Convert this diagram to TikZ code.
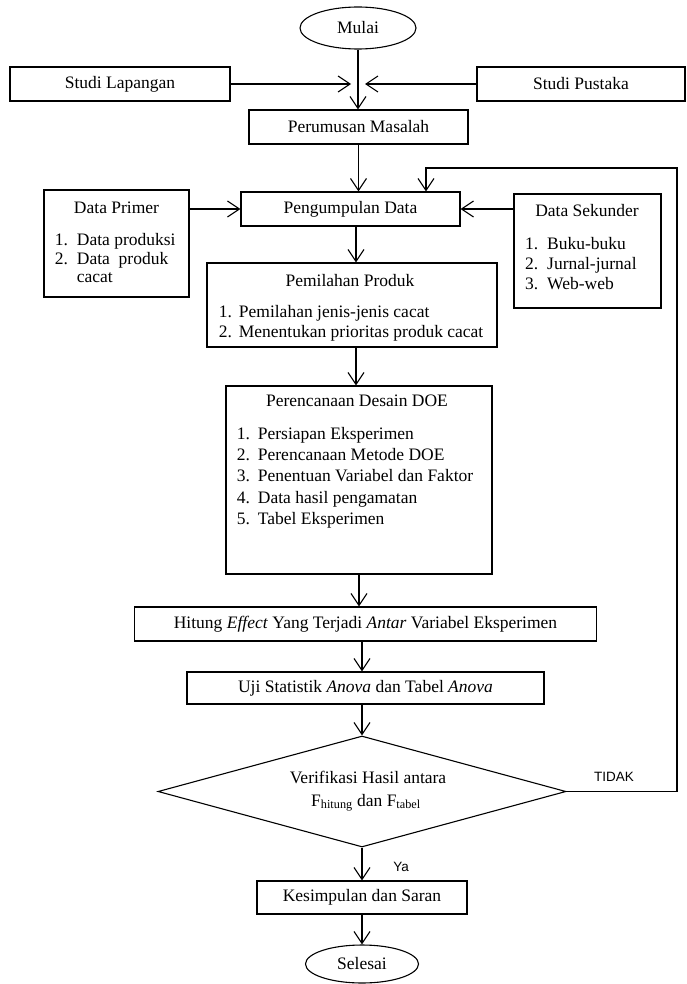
\documentclass[tikz,border=0pt]{standalone}
\usepackage{fontspec}
\setmainfont{Liberation Serif}
\newfontfamily\sansf{Liberation Sans}
\usetikzlibrary{arrows.meta,shapes.geometric,calc}
\tikzset{
  box/.style={draw, line width=1.1pt, rectangle, inner sep=0pt, font=\fontsize{17.5}{21}\selectfont},
  term/.style={draw, line width=1.1pt, ellipse, inner sep=0pt, font=\fontsize{17.5}{21}\selectfont},
  dec/.style={draw, line width=1.1pt, diamond, inner sep=0pt},
  arr/.style={line width=1.1pt, -{Straight Barb[length=12pt,width=16pt,line width=1.1pt]}},
  txt/.style={inner sep=0pt, font=\fontsize{17.5}{21}\selectfont, text height=12pt, text depth=4pt},
  lab/.style={inner sep=0pt, font=\sansf\fontsize{13.5}{15}\selectfont},
}
\newcommand{\itm}[2][21pt]{\makebox[#1][l]{#2}}
\begin{document}
\begin{tikzpicture}[x=1pt,y=-1pt]
\fill[white] (0,0) rectangle (686,984);
\useasboundingbox (0,0) rectangle (686,984);

% nodes
\node[term, minimum width=116pt, minimum height=42pt] (mulai) at (358,28) {Mulai};
\node[box, minimum width=220pt, minimum height=34pt] (lap) at (120,84) {Studi Lapangan};
\node[box, minimum width=208pt, minimum height=34pt] (pus) at (581,84) {Studi Pustaka};
\node[box, minimum width=219pt, minimum height=34pt] (pers) at (358.5,127) {Perumusan Masalah};
\node[box, minimum width=219pt, minimum height=34pt] (peng) at (350.5,209) {Pengumpulan Data};
\node[box, minimum width=145pt, minimum height=107pt] (prim) at (116.5,243.5) {};
\node[box, minimum width=147pt, minimum height=114pt] (sek) at (587.5,251) {};
\node[box, minimum width=290pt, minimum height=84pt] (pem) at (352,305) {};
\node[box, minimum width=266pt, minimum height=188pt] (doe) at (359,480) {};
\node[box, minimum width=462pt, minimum height=34pt] (hit) at (365.5,624) {Hitung \textit{Effect} Yang Terjadi \textit{Antar} Variabel Eksperimen};
\node[box, minimum width=357pt, minimum height=32pt] (uji) at (365.5,688) {Uji Statistik \textit{Anova} dan Tabel \textit{Anova}};
\node[dec, minimum width=408pt, minimum height=111pt] (ver) at (362,791.5) {};
\node[box, minimum width=210pt, minimum height=33pt] (kes) at (362,897.5) {Kesimpulan dan Saran};
\node[term, minimum width=113pt, minimum height=38pt] (sel) at (362,964) {Selesai};

% texts in multi-line boxes
\node[txt] (primT) at (116.5,210) {Data Primer};
\node[txt, anchor=west] (prim1) at (54.7,241) {\itm[22pt]{1.}Data produksi};
\node[txt, anchor=west] (prim2) at (54.7,260) {\itm[22pt]{2.}Data\ \ produk};
\node[txt, anchor=west] (prim3) at (76.7,278) {cacat};

\node[txt] (sekT) at (587,213) {Data Sekunder};
\node[txt, anchor=west] (sek1) at (525,245) {\itm[22pt]{1.}Buku-buku};
\node[txt, anchor=west] (sek2) at (525,265) {\itm[22pt]{2.}Jurnal-jurnal};
\node[txt, anchor=west] (sek3) at (525,285) {\itm[22pt]{3.}Web-web};

\node[txt] (pemT) at (350,282) {Pemilahan Produk};
\node[txt, anchor=west] (pem1) at (218.7,313) {\itm[20pt]{1.}Pemilahan jenis-jenis cacat};
\node[txt, anchor=west] (pem2) at (218.7,333) {\itm[20pt]{2.}Menentukan prioritas produk cacat};

\node[txt] (doeT) at (357,402) {Perencanaan Desain DOE};
\node[txt, anchor=west] (doe1) at (236.7,435) {\itm{1.}Persiapan Eksperimen};
\node[txt, anchor=west] (doe2) at (236.7,456) {\itm{2.}Perencanaan Metode DOE};
\node[txt, anchor=west] (doe3) at (236.7,477.5) {\itm{3.}Penentuan Variabel dan Faktor};
\node[txt, anchor=west] (doe4) at (236.7,499) {\itm{4.}Data hasil pengamatan};
\node[txt, anchor=west] (doe5) at (236.7,520.5) {\itm{5.}Tabel Eksperimen};

\node[txt] (ver1) at (368,779) {Verifikasi Hasil antara};
\node[txt] (ver2) at (366,802) {F\textsubscript{hitung} dan F\textsubscript{tabel}};

\node[lab] (tidak) at (614,777) {TIDAK};
\node[lab] (ya) at (401,867) {Ya};

% helper coordinates
\coordinate (sA) at (356,0);
\coordinate (jL) at (351,84);
\coordinate (jR) at (365,84);
\coordinate (fbR) at (677,168);
\coordinate (fbL) at (426,168);

% connectors
\draw[arr] (mulai.south) -- (mulai.south |- pers.north);
\draw[arr] (lap.east) -- (jL);
\draw[arr] (pus.west) -- (jR);
\draw[arr] (pers.south) -- (pers.south |- peng.north);
\draw[arr] (prim.east |- peng.west) -- (peng.west);
\draw[arr] (sek.west |- peng.east) -- (peng.east);
\draw[arr] (peng.south -| sA) -- (pem.north -| sA);
\draw[arr] (pem.south -| sA) -- (doe.north -| sA);
\draw[arr] (doe.south) -- (doe.south |- hit.north);
\draw[arr] (hit.south -| ver.north) -- (ver.north |- uji.north);
\draw[arr] (uji.south -| ver.north) -- (ver.north);
\draw[arr] (ver.south) -- (ver.south |- kes.north);
\draw[arr] (kes.south) -- (sel.north);
\draw[arr] (ver.east) -| (fbR) -- (fbL) -- (fbL |- peng.north);
\end{tikzpicture}
\end{document}
